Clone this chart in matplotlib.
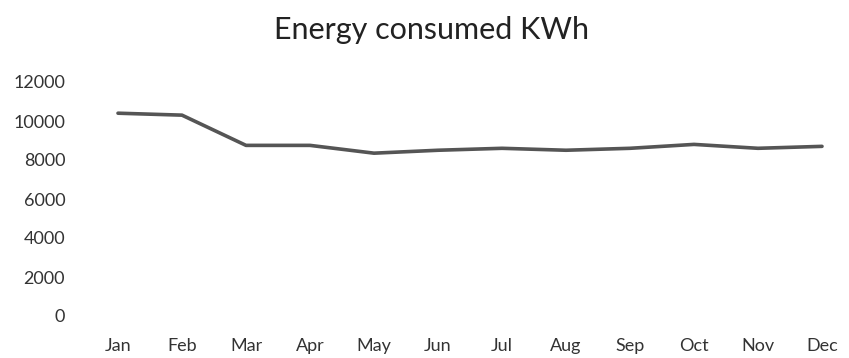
import matplotlib
matplotlib.use("Agg")
import matplotlib.pyplot as plt

months = ["Jan", "Feb", "Mar", "Apr", "May", "Jun", "Jul", "Aug", "Sep", "Oct", "Nov", "Dec"]
energy_kwh = [10400, 10300, 8750, 8750, 8350, 8500, 8600, 8500, 8600, 8800, 8600, 8700]
y_ticks = [0, 2000, 4000, 6000, 8000, 10000, 12000]

plt.rcParams["font.family"] = ["Lato", "DejaVu Sans"]

W, H = 849, 358
fig = plt.figure(figsize=(W / 100, H / 100), dpi=100)
fig.patch.set_facecolor("white")
ax = fig.add_axes([86 / W, (H - 316) / H, 768 / W, 234 / H])

x = list(range(len(months)))
ax.plot(x, energy_kwh, color="#555555", linewidth=2.6, solid_capstyle="round")

ax.set_xlim(-0.5, len(months) - 0.5)
ax.set_ylim(0, 12000)
ax.set_xticks(x)
ax.set_xticklabels(months)
ax.set_yticks(y_ticks)
ax.set_yticklabels([str(v) for v in y_ticks])
ax.tick_params(axis="both", length=0, labelsize=13, colors="#333333")
ax.tick_params(axis="x", pad=16)
ax.tick_params(axis="y", pad=15)
for s in ax.spines.values():
    s.set_visible(False)

fig.text(432 / W, 1 - 30 / H, "Energy consumed KWh", ha="center", va="center",
         fontsize=22, color="#222222")

fig.savefig("out.png", dpi=100)
